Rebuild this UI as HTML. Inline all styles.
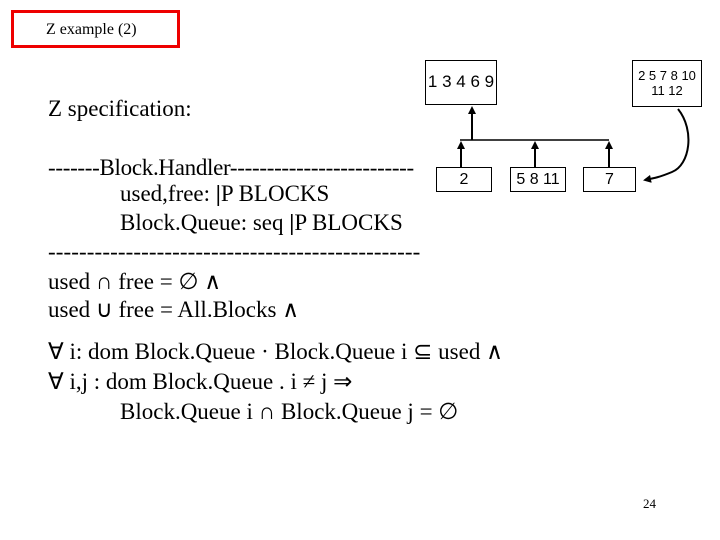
<!DOCTYPE html>
<html><head><style>
body{margin:0;width:720px;height:540px;background:#fff;position:relative;overflow:hidden;font-family:"Liberation Serif",serif;}
.t{position:absolute;white-space:nowrap;font-size:23px;color:#000;line-height:1;}
.b{position:absolute;border:1px solid #000;background:#fff;font-family:"Liberation Sans",sans-serif;text-align:center;box-sizing:border-box;}
</style></head><body>
<div style="position:absolute;left:11px;top:10px;width:169px;height:38px;border:3px solid #e00;box-sizing:border-box;"></div>
<div class="t" style="left:46px;top:22px;font-size:16px;">Z example (2)</div>
<div class="t" style="left:48px;top:97px;">Z specification:</div>
<div class="t" style="left:48px;top:156px;letter-spacing:-0.3px;">-------Block.Handler-------------------------</div>
<div class="t" style="left:120px;top:182px;">used,free: <b>|</b>P BLOCKS</div>
<div class="t" style="left:120px;top:211px;">Block.Queue: seq <b>|</b>P BLOCKS</div>
<div class="t" style="left:48px;top:240px;letter-spacing:0.1px;">------------------------------------------------</div>
<div class="t" style="left:48px;top:270px;">used ∩ free = ∅ ∧</div>
<div class="t" style="left:48px;top:298px;">used ∪ free = All.Blocks ∧</div>
<div class="t" style="left:48px;top:340px;">∀ i: dom Block.Queue · Block.Queue i ⊆ used ∧</div>
<div class="t" style="left:48px;top:370px;">∀ i,j : dom Block.Queue . i ≠ j ⇒</div>
<div class="t" style="left:120px;top:400px;">Block.Queue i ∩ Block.Queue j = ∅</div>
<div class="t" style="left:643px;top:497px;font-size:13px;">24</div>
<svg style="position:absolute;left:0;top:0" width="720" height="540">
<defs><marker id="a" markerWidth="8" markerHeight="8" refX="6" refY="4" orient="auto" markerUnits="userSpaceOnUse"><path d="M0,0L8,4L0,8z"/></marker></defs>
<g stroke="#000" stroke-width="2" fill="none">
<line x1="472" y1="140" x2="472" y2="108" marker-end="url(#a)"/>
<line x1="460" y1="140" x2="609" y2="140" stroke-width="1.5"/>
<line x1="461" y1="167" x2="461" y2="143" marker-end="url(#a)"/>
<line x1="535" y1="167" x2="535" y2="143" marker-end="url(#a)"/>
<line x1="609" y1="167" x2="609" y2="143" marker-end="url(#a)"/>
<path d="M678,109 C695,130 690,165 672,172 C660,177 655,178 645,180" marker-end="url(#a)"/>
</g></svg>
<div class="b" style="left:425px;top:60px;width:72px;height:45px;font-size:17px;padding-top:11px;">1 3 4 6 9</div>
<div class="b" style="left:632px;top:60px;width:70px;height:47px;font-size:13px;line-height:15px;padding-top:7px;">2 5 7 8 10<br>11 12</div>
<div class="b" style="left:436px;top:167px;width:56px;height:25px;font-size:16px;padding-top:3px;">2</div>
<div class="b" style="left:510px;top:167px;width:56px;height:25px;font-size:16px;padding-top:3px;">5 8 11</div>
<div class="b" style="left:583px;top:167px;width:53px;height:25px;font-size:16px;padding-top:3px;">7</div>
</body></html>
